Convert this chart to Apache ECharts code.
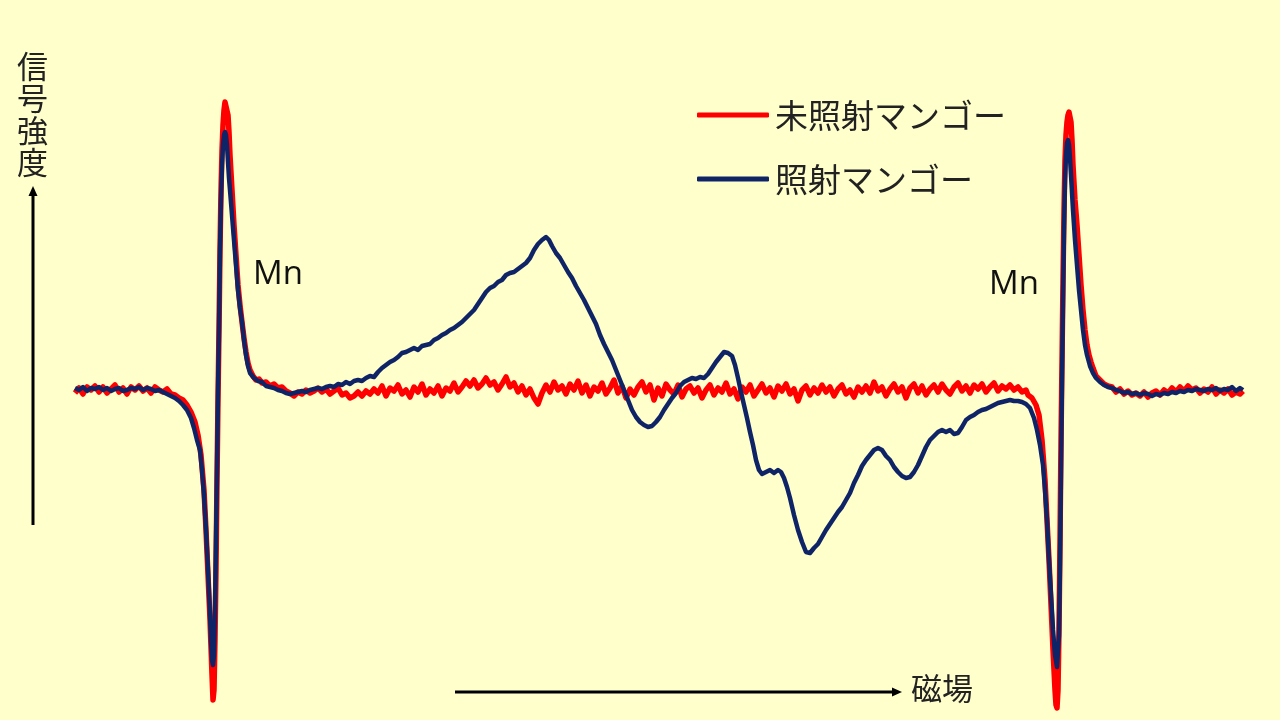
<!DOCTYPE html>
<html>
<head>
<meta charset="utf-8">
<title>ESR spectrum</title>
<script src="https://cdn.jsdelivr.net/npm/echarts@6/dist/echarts.min.js"></script>
<style>
  html, body { margin: 0; padding: 0; background: #ffffcc; }
  #chart { width: 1280px; height: 720px; }
</style>
</head>
<body>
<div id="chart"></div>
<script>
// field (arbitrary units), signal (arbitrary units, baseline = 0)
var seriesNames = ['未照射マンゴー', '照射マンゴー'];
var peakLabels = ['Mn', 'Mn'];
var axisNames = ['信号強度', '磁場'];

var redPoints = [
  [75, -3], [79, 2], [83, -4], [87, 3], [91, 0], [95, 4], [99, -2], [103, 3], [107, -3], [111, 1],
  [115, 5], [119, -2], [123, 2], [127, -4], [131, 3], [135, 0], [139, 4], [143, -1], [147, 2], [151, -3],
  [155, 3], [159, 0], [163, -2], [167, 1], [171, -4], [175, -5], [179, -8], [183, -10], [187, -15], [191, -22],
  [195, -32], [198, -45], [201, -65], [204, -100], [206, -140], [208, -185], [210, -230], [212, -285], [213, -310], [214, -300],
  [215, -250], [216, -180], [217, -90], [218, -10], [219, 60], [220, 140], [221, 200], [222, 240], [223, 265], [224, 280],
  [225, 288], [226, 290], [227, 287], [228, 275], [229, 258], [230, 235], [232, 200], [234, 165], [236, 135], [238, 105],
  [240, 85], [242, 68], [244, 52], [246, 38], [248, 27], [250, 20], [253, 14], [256, 10], [259, 11], [262, 7],
  [266, 8], [270, 4], [274, 6], [278, 2], [282, 3], [286, -1], [290, -3], [294, -6], [298, -2], [302, -4],
  [306, 0], [310, -3], [314, -1], [318, 2], [322, -2], [326, 1], [330, -4], [334, -1], [338, 2], [342, -5],
  [346, -3], [350, -8], [354, -6], [358, -2], [362, -6], [366, -1], [370, -4], [374, 1], [378, -3], [382, 4],
  [386, -6], [390, 2], [394, -1], [398, 5], [402, -4], [406, 0], [410, -7], [414, 3], [418, -2], [422, 6],
  [426, -5], [430, 1], [434, -3], [438, 4], [442, -6], [446, 2], [450, -1], [454, 7], [458, -2], [462, 3],
  [466, 9], [470, 4], [474, 10], [478, 2], [482, 6], [486, 12], [490, 5], [494, 8], [498, 0], [502, 6],
  [506, 13], [510, 3], [514, 7], [518, -2], [522, 4], [526, -5], [530, 1], [534, -8], [538, -14], [542, -3],
  [546, 5], [550, -2], [554, 8], [558, 0], [562, 4], [566, -4], [570, 6], [574, 0], [578, 9], [582, -3],
  [586, 5], [590, -6], [594, 3], [598, -1], [602, 7], [606, -4], [610, 2], [614, 10], [618, -3], [622, 4],
  [626, -8], [630, 1], [634, -5], [638, 3], [642, 8], [646, -2], [650, 5], [654, -10], [658, 2], [662, -6],
  [666, 6], [670, 0], [674, -4], [678, 5], [682, -7], [686, 1], [690, 4], [694, -3], [698, 2], [702, -8],
  [706, 0], [710, 5], [714, -5], [718, 2], [722, -2], [726, 7], [730, -4], [734, 1], [738, -9], [742, 3],
  [746, -2], [750, 5], [754, -6], [758, 0], [762, 6], [766, -3], [770, 2], [774, -7], [778, 4], [782, -1],
  [786, 6], [790, -4], [794, 1], [798, -11], [802, 0], [806, 4], [810, -5], [814, 2], [818, -3], [822, 5],
  [826, -2], [830, 3], [834, -6], [838, 1], [842, 5], [846, -4], [850, 0], [854, -7], [858, 3], [862, -2],
  [866, 4], [870, -3], [874, 8], [878, -1], [882, 3], [886, -6], [890, 1], [894, 6], [898, -2], [902, 3],
  [906, -8], [910, 2], [914, 6], [918, -3], [922, 4], [926, -5], [930, 1], [934, 5], [938, -2], [942, 6],
  [946, 0], [950, -4], [954, 3], [958, 7], [962, -1], [966, 4], [970, -3], [974, 5], [978, 1], [982, 6],
  [986, -2], [990, 3], [994, 7], [998, -1], [1002, 4], [1006, 1], [1010, 5], [1014, 0], [1018, 3], [1022, -2],
  [1026, 0], [1028, -5], [1032, -8], [1036, -15], [1039, -25], [1042, -50], [1045, -90], [1047, -130], [1049, -170], [1051, -215],
  [1053, -260], [1055, -300], [1056, -315], [1057, -318], [1058, -300], [1059, -240], [1060, -150], [1061, -50], [1062, 30], [1063, 110],
  [1064, 180], [1065, 230], [1066, 255], [1067, 268], [1068, 275], [1069, 278], [1070, 277], [1071, 268], [1072, 250], [1073, 225],
  [1075, 190], [1077, 165], [1079, 135], [1081, 105], [1083, 80], [1085, 60], [1087, 45], [1089, 35], [1091, 28], [1093, 22],
  [1096, 14], [1100, 10], [1104, 6], [1108, 4], [1112, 3], [1116, -2], [1120, 1], [1124, -4], [1128, -1], [1132, -5],
  [1136, -3], [1140, -6], [1144, -2], [1148, -7], [1152, -3], [1156, -1], [1160, -5], [1164, 0], [1168, -3], [1172, 2],
  [1176, -2], [1180, 3], [1184, -1], [1188, 4], [1192, 0], [1196, 2], [1200, -3], [1204, 1], [1208, -2], [1212, 3],
  [1216, -4], [1220, 0], [1224, -3], [1228, 1], [1232, -5], [1236, -2], [1240, -4], [1243, -1]
];

var navyPoints = [
  [75, 2], [79, 0], [83, 3], [87, -1], [91, 2], [95, 1], [99, 3], [103, 0], [107, 2], [111, -1],
  [115, 1], [119, 2], [123, -1], [127, 0], [131, 2], [135, 1], [139, 3], [143, 0], [147, 2], [151, 1],
  [155, -1], [159, 0], [163, -2], [167, -4], [171, -6], [175, -8], [179, -11], [183, -15], [187, -20], [191, -28],
  [194, -38], [197, -50], [200, -60], [202, -80], [204, -105], [206, -140], [208, -180], [210, -225], [211, -250], [212, -270],
  [213, -275], [214, -265], [215, -220], [216, -150], [217, -80], [218, 0], [219, 60], [220, 140], [221, 190], [222, 225],
  [223, 245], [224, 255], [225, 258], [226, 255], [227, 245], [228, 228], [229, 212], [230, 200], [232, 175], [234, 150],
  [236, 125], [238, 100], [240, 82], [242, 68], [244, 50], [246, 35], [248, 24], [250, 17], [254, 12], [258, 9],
  [262, 8], [266, 4], [270, 3], [274, 2], [278, 0], [282, -1], [286, -3], [290, -4], [294, -3], [298, -2],
  [302, -1], [306, -2], [310, 0], [314, 1], [318, 2], [322, 1], [326, 3], [330, 4], [334, 3], [338, 6],
  [342, 5], [346, 8], [350, 6], [354, 9], [358, 10], [362, 9], [366, 12], [370, 14], [374, 13], [378, 18],
  [382, 22], [386, 25], [390, 28], [394, 30], [398, 33], [402, 37], [406, 38], [410, 40], [414, 42], [418, 40],
  [422, 44], [426, 45], [430, 46], [434, 50], [438, 52], [442, 55], [446, 57], [450, 60], [454, 62], [458, 65],
  [462, 68], [466, 72], [470, 76], [474, 80], [478, 86], [482, 92], [486, 98], [490, 102], [494, 104], [498, 108],
  [502, 110], [506, 115], [510, 117], [514, 118], [518, 121], [522, 124], [526, 127], [530, 132], [534, 140], [538, 146],
  [542, 150], [546, 153], [549, 150], [552, 144], [556, 137], [560, 132], [564, 125], [568, 118], [572, 112], [576, 104],
  [580, 97], [584, 90], [588, 82], [592, 74], [596, 66], [600, 55], [604, 46], [608, 38], [612, 30], [616, 20],
  [620, 10], [624, 0], [628, -10], [632, -20], [636, -27], [640, -32], [644, -35], [648, -37], [652, -36], [656, -32],
  [660, -27], [664, -20], [668, -14], [672, -8], [676, -3], [680, 4], [684, 8], [688, 10], [692, 12], [696, 11],
  [700, 13], [704, 12], [708, 16], [712, 22], [716, 28], [720, 33], [724, 38], [728, 37], [732, 34], [735, 25],
  [738, 12], [741, -2], [744, -15], [747, -28], [750, -42], [753, -55], [756, -70], [759, -80], [762, -84], [766, -82],
  [770, -80], [774, -83], [778, -80], [781, -82], [784, -88], [787, -97], [790, -108], [794, -125], [798, -140], [802, -152],
  [806, -162], [810, -163], [814, -158], [818, -154], [822, -147], [826, -140], [830, -134], [834, -128], [838, -122], [842, -117],
  [846, -110], [850, -103], [854, -93], [858, -85], [862, -76], [866, -70], [870, -65], [874, -60], [878, -58], [882, -60],
  [886, -66], [890, -70], [894, -77], [898, -82], [902, -86], [906, -88], [910, -87], [914, -82], [918, -75], [922, -66],
  [926, -57], [930, -50], [934, -46], [938, -42], [942, -40], [946, -42], [950, -40], [954, -44], [958, -43], [962, -37],
  [966, -30], [970, -27], [974, -25], [978, -22], [982, -20], [986, -19], [990, -17], [994, -15], [998, -13], [1002, -12],
  [1006, -11], [1010, -10], [1014, -11], [1018, -11], [1022, -12], [1026, -14], [1030, -18], [1034, -28], [1037, -40], [1040, -55],
  [1043, -75], [1045, -100], [1047, -130], [1049, -170], [1051, -205], [1053, -240], [1055, -265], [1057, -277], [1058, -275], [1059, -245],
  [1060, -175], [1061, -80], [1062, 10], [1063, 90], [1064, 160], [1065, 210], [1066, 235], [1067, 247], [1068, 250], [1069, 245],
  [1070, 232], [1071, 215], [1073, 180], [1075, 150], [1077, 125], [1079, 100], [1081, 80], [1083, 60], [1085, 45], [1087, 35],
  [1090, 24], [1093, 17], [1096, 12], [1100, 8], [1104, 5], [1108, 3], [1112, 2], [1116, 0], [1120, -1], [1124, -3],
  [1128, -2], [1132, -4], [1136, -3], [1140, -5], [1144, -3], [1148, -4], [1152, -6], [1156, -4], [1160, -5], [1164, -3],
  [1168, -4], [1172, -2], [1176, -3], [1180, -1], [1184, -2], [1188, 0], [1192, -1], [1196, 1], [1200, 0], [1204, -1],
  [1208, 1], [1212, 0], [1216, 2], [1220, -1], [1224, 1], [1228, 0], [1232, 3], [1236, -1], [1240, 2], [1243, 0]
];

var colors = ['#ff0000', '#0f2466'];
var cjkFont = '"Noto Sans CJK JP", "Noto Sans CJK SC", sans-serif';

var chart = echarts.init(document.getElementById('chart'), null, { renderer: 'canvas' });

function arrowLine(x1, y1, x2, y2) {
  var dx = x2 - x1;
  var dy = y2 - y1;
  var len = Math.sqrt(dx * dx + dy * dy);
  var ux = dx / len;
  var uy = dy / len;
  var head = 10;
  var half = 4.5;
  var bx = x2 - ux * head;
  var by = y2 - uy * head;
  return [
    {
      type: 'line',
      shape: { x1: x1, y1: y1, x2: bx, y2: by },
      style: { stroke: '#000', lineWidth: 3 }
    },
    {
      type: 'polygon',
      shape: { points: [[x2, y2], [bx - uy * half, by + ux * half], [bx + uy * half, by - ux * half]] },
      style: { fill: '#000' }
    }
  ];
}

var graphics = []
  .concat(arrowLine(33, 525, 33, 186))
  .concat(arrowLine(455, 692, 902, 692))
  .concat([
    {
      type: 'text',
      left: 17, top: 50,
      style: { text: axisNames[0].split('').join('\n'), font: '31px ' + cjkFont, lineHeight: 32, fill: '#222' }
    },
    {
      type: 'text',
      left: 911, top: 673,
      style: { text: axisNames[1], font: '31px ' + cjkFont, fill: '#222' }
    },
    {
      type: 'text',
      left: 253, top: 258,
      style: { text: peakLabels[0], font: '33px "Open Sans", "Liberation Sans", sans-serif', fill: '#111' }
    },
    {
      type: 'text',
      left: 989, top: 268,
      style: { text: peakLabels[1], font: '33px "Open Sans", "Liberation Sans", sans-serif', fill: '#111' }
    }
  ]);

chart.setOption({
  backgroundColor: '#ffffcc',
  animation: false,
  color: colors,
  grid: { left: 0, right: 0, top: 0, bottom: 0 },
  xAxis: { type: 'value', min: 0, max: 1280, show: false },
  yAxis: { type: 'value', min: -330, max: 390, show: false },
  legend: {
    orient: 'vertical',
    left: 692,
    top: 93,
    itemWidth: 72,
    itemHeight: 5,
    itemGap: 30,
    icon: 'roundRect',
    textStyle: { fontFamily: cjkFont, fontSize: 33, lineHeight: 34, color: '#222', padding: [0, 0, 0, 1] },
    data: seriesNames
  },
  series: [
    {
      name: seriesNames[0],
      type: 'line',
      data: redPoints,
      showSymbol: false,
      symbol: 'none',
      lineStyle: { color: colors[0], width: 5.5, join: 'round' },
      z: 2
    },
    {
      name: seriesNames[1],
      type: 'line',
      data: navyPoints,
      showSymbol: false,
      symbol: 'none',
      lineStyle: { color: colors[1], width: 4.5, join: 'round' },
      z: 3
    }
  ],
  graphic: graphics
});
</script>
</body>
</html>
